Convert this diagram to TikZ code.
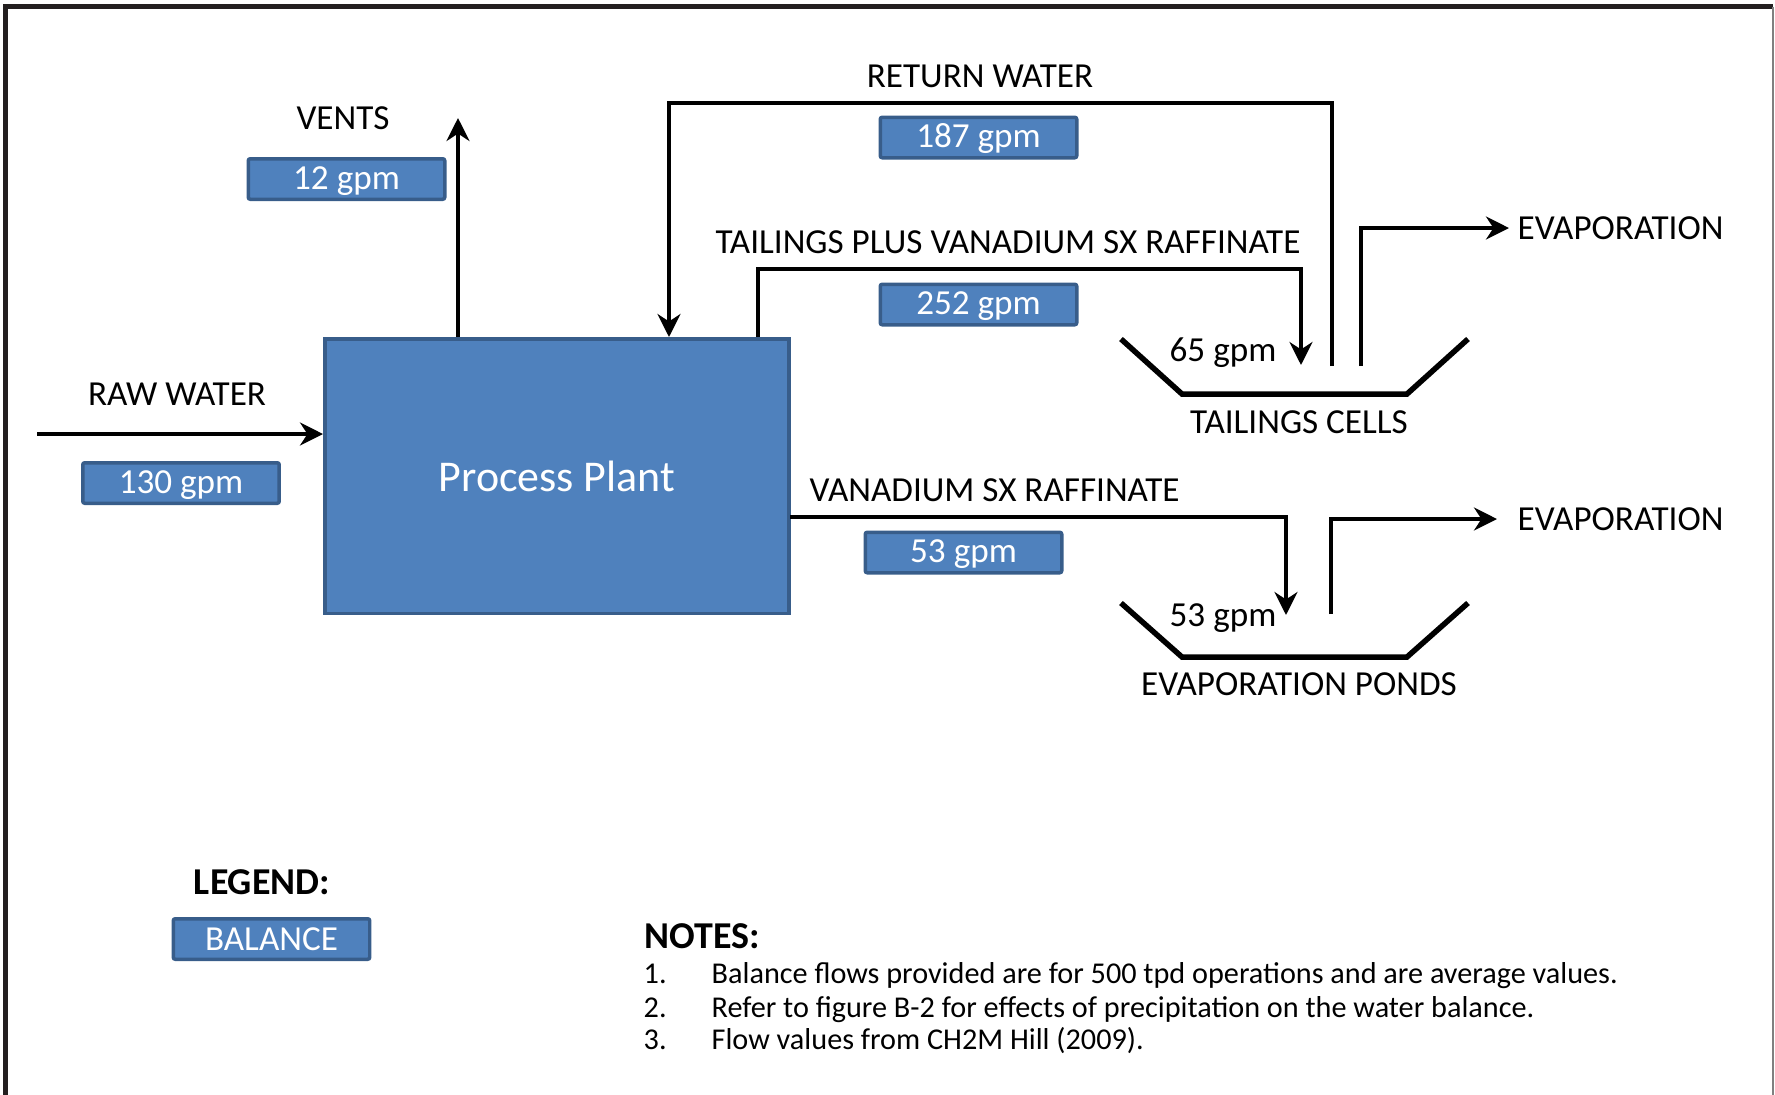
\documentclass[tikz,border=0pt]{standalone}
\usepackage{fontspec}
\setmainfont{Carlito}
\usetikzlibrary{arrows.meta,positioning}
\definecolor{boxfill}{HTML}{4F81BD}
\definecolor{boxedge}{HTML}{385D8A}
\definecolor{framecol}{HTML}{231F20}
\tikzset{
	plantbox/.style={rectangle,draw=boxedge,fill=boxfill,line width=0.35mm,minimum width=46.45mm,minimum height=27.45mm,text=white,font=\fontsize{12.5}{15}\selectfont},
	flowbox/.style={rectangle,rounded corners=0.2mm,draw=boxedge,fill=boxfill,line width=0.35mm,minimum width=19.65mm,minimum height=4.05mm,inner sep=0pt,text=white,font=\fontsize{10}{12}\selectfont},
	gpmbox/.style={flowbox,text height=2.2mm,text depth=0.2mm},
	flowlabel/.style={inner sep=0pt,font=\fontsize{10}{12}\selectfont},
	headlabel/.style={inner sep=0pt,font=\fontsize{10.8}{13}\selectfont\bfseries},
	notelabel/.style={inner sep=0pt,anchor=base west,font=\fontsize{8.6}{10}\selectfont},
	flow/.style={->,>={Stealth[width=2.3mm,length=2.3mm]},color=black,line width=0.38mm},
	pond/.style={color=black,line width=0.55mm},
	frameline/.style={color=framecol,line width=0.5mm}
}
\begin{document}
\begin{tikzpicture}[x=0.1mm,y=-0.1mm]
	\useasboundingbox (0,0) rectangle (1775,1095);

	%%frame
	\draw[frameline] (5.5,1095) -- (5.5,6.5) -- (1773,6.5);
	\draw[color=gray,line width=0.15mm] (1773,6.5) -- (1773,1095);

	%%process plant
	\node[plantbox] (plant) at (557,476) {Process Plant};

	%%raw water
	\node[flowlabel] (rawwater) at (177,394) {RAW WATER};
	\node[gpmbox] (rawgpm) at (181,483) {130 gpm};
	\coordinate (rawin) at (37,434);
	\draw[flow] (rawin) -- (rawin -| plant.west);

	%%vents
	\node[flowlabel] (vents) at (343,118) {VENTS};
	\node[gpmbox] (ventsgpm) at (346.5,179) {12 gpm};
	\coordinate (ventsend) at (458,118);
	\draw[flow] (plant.north -| ventsend) -- (ventsend);

	%%return water
	\node[flowlabel] (retwater) at (980,76) {RETURN WATER};
	\node[gpmbox] (retgpm) at (978.5,137.5) {187 gpm};
	\coordinate (retin) at (1332,366);
	\coordinate (retcorner) at (669,103);
	\draw[flow] (retin) |- (retcorner) -- (retcorner |- plant.north);

	%%tailings plus vanadium sx raffinate
	\node[flowlabel] (tailings) at (1008,242) {TAILINGS PLUS VANADIUM SX RAFFINATE};
	\node[gpmbox] (tailgpm) at (978.5,304.5) {252 gpm};
	\coordinate (tailcorner) at (758,269);
	\coordinate (tailin) at (1301,365);
	\draw[flow] (plant.north -| tailcorner) -- (tailcorner) -| (tailin);

	%%vanadium sx raffinate
	\node[flowlabel,anchor=west] (raff) at (809,490) {VANADIUM SX RAFFINATE};
	\node[gpmbox] (raffgpm) at (963.5,552.5) {53 gpm};
	\coordinate (raffstart) at (790,517);
	\coordinate (raffin) at (1286,615);
	\draw[flow] (raffstart) -| (raffin);

	%%tailings cells
	\draw[pond] (1121,339) -- (1182,394) -- (1407,394) -- (1468,339);
	\node[flowlabel] (cellsgpm) at (1223,353) {65 gpm};
	\node[flowlabel] (cells) at (1299,422) {TAILINGS CELLS};
	\node[flowlabel,anchor=west] (evaptop) at (1517,228) {EVAPORATION};
	\coordinate (cellsout) at (1361,366);
	\draw[flow] (cellsout) |- ([xshift=-0.8mm]evaptop.west);

	%%evaporation ponds
	\draw[pond] (1121,603) -- (1182,657) -- (1407,657) -- (1468,603);
	\node[flowlabel] (pondsgpm) at (1223,618) {53 gpm};
	\node[flowlabel] (ponds) at (1299,684) {EVAPORATION PONDS};
	\node[flowlabel,anchor=west] (evapbot) at (1517,519) {EVAPORATION};
	\coordinate (pondsout) at (1331,614);
	\draw[flow] (pondsout) |- ([xshift=-2mm]evapbot.west);

	%%legend
	\node[headlabel] (legend) at (262,882) {LEGEND:};
	\node[flowbox] (balance) at (271.5,939) {BALANCE};

	%%notes
	\node[headlabel,anchor=west] (notes) at (644,936) {NOTES:};
	\node[notelabel] (n1) at (643,983) {1.};
	\node[notelabel] (t1) at (711,983) {Balance flows provided are for 500 tpd operations and are average values.};
	\node[notelabel] (n2) at (643,1017) {2.};
	\node[notelabel] (t2) at (711,1017) {Refer to figure B-2 for effects of precipitation on the water balance.};
	\node[notelabel] (n3) at (643,1049) {3.};
	\node[notelabel] (t3) at (711,1049) {Flow values from CH2M Hill (2009).};

\end{tikzpicture}
\end{document}
